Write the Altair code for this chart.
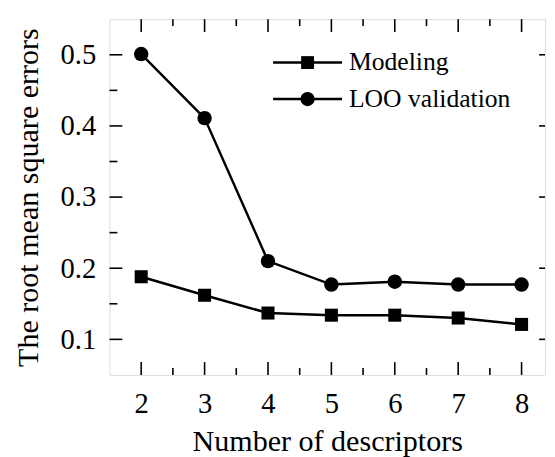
import altair as alt
import pandas as pd

n_desc = [2, 3, 4, 5, 6, 7, 8]
modeling = [0.188, 0.162, 0.137, 0.134, 0.134, 0.130, 0.121]
loo = [0.501, 0.411, 0.210, 0.177, 0.181, 0.177, 0.177]

x_major = [2, 3, 4, 5, 6, 7, 8]
x_minor = [2.5, 3.5, 4.5, 5.5, 6.5, 7.5]
y_major = [0.1, 0.2, 0.3, 0.4, 0.5]
y_minor = [0.15, 0.25, 0.35, 0.45]

XDOM = [1.5, 8.37]
YDOM = [0.05, 0.55]
W, H = 442, 361
FONT = "Liberation Serif"

df_m = pd.DataFrame({"n": n_desc, "v": modeling})
df_l = pd.DataFrame({"n": n_desc, "v": loo})

xs = alt.Scale(domain=XDOM, nice=False, zero=False)
ys = alt.Scale(domain=YDOM, nice=False, zero=False)

x_axis = alt.Axis(values=x_major, ticks=False, domain=False, grid=False, format="d",
                  labelFontSize=29, labelFont=FONT, labelColor="black",
                  labelPadding=15, titleFont=FONT, titleFontSize=30.5,
                  titleFontWeight="normal", titleColor="black", titlePadding=9)
y_axis = alt.Axis(values=y_major, ticks=False, domain=False, grid=False,
                  format=".1f", labelFontSize=29, labelFont=FONT, labelColor="black",
                  labelPadding=14, titleFont=FONT, titleFontSize=30.5,
                  titleFontWeight="normal", titleColor="black", titlePadding=17)
X_TITLE = "Number of descriptors"
Y_TITLE = "The root mean square errors"

def X(field="n"):
    return alt.X(f"{field}:Q", scale=xs, axis=x_axis, title=X_TITLE)

def Y(field="v"):
    return alt.Y(f"{field}:Q", scale=ys, axis=y_axis, title=Y_TITLE)

def xticks(vals, y0, y1):
    return alt.Chart(pd.DataFrame({"n": vals})).mark_rule(color="black", strokeWidth=1.6).encode(
        x=X(), y=alt.value(y0), y2=alt.value(y1))

def yticks(vals, x0, x1):
    return alt.Chart(pd.DataFrame({"v": vals})).mark_rule(color="black", strokeWidth=1.6).encode(
        y=Y(), x=alt.value(x0), x2=alt.value(x1))

tick_layers = [
    xticks(x_major, H, H - 13), xticks(x_minor, H, H - 7),
    xticks(x_major, 0, 13), xticks(x_minor, 0, 7),
    yticks(y_major, 0, 13), yticks(y_minor, 0, 8),
    yticks(y_major, W, W - 6),
]

def series(df, shape, size):
    line = alt.Chart(df).mark_line(color="black", strokeWidth=2.5).encode(x=X(), y=Y())
    pts = alt.Chart(df).mark_point(shape=shape, filled=True, color="black", size=size, opacity=1).encode(
        x=X(), y=Y())
    return [line, pts]

legend_names = ["Modeling", "LOO validation"]
legend_shapes = ["square", "circle"]
legend_y = [44, 81]
legend_layers = []
for name, shp, ly in zip(legend_names, legend_shapes, legend_y):
    d = pd.DataFrame({"label": [name]})
    legend_layers.append(alt.Chart(d).mark_rule(color="black", strokeWidth=2.5).encode(
        x=alt.value(166), x2=alt.value(236), y=alt.value(ly)))
    legend_layers.append(alt.Chart(d).mark_point(shape=shp, filled=True, color="black", opacity=1,
                                                 size=170 if shp == "square" else 210).encode(
        x=alt.value(201), y=alt.value(ly)))
    legend_layers.append(alt.Chart(d).mark_text(align="left", baseline="middle", font=FONT,
                                                fontSize=26, color="black").encode(
        x=alt.value(243), y=alt.value(ly), text="label:N"))

chart = alt.layer(
    *tick_layers,
    *series(df_m, "square", 175), *series(df_l, "circle", 215),
    *legend_layers,
).properties(
    width=W, height=H,
    autosize=alt.AutoSizeParams(type="none"),
    padding={"left": 103, "top": 8, "right": 2, "bottom": 86},
).configure_view(stroke="black", strokeWidth=2.4).configure(background="white")

chart.save("out.html", embed_options={"renderer": "svg", "actions": False})
